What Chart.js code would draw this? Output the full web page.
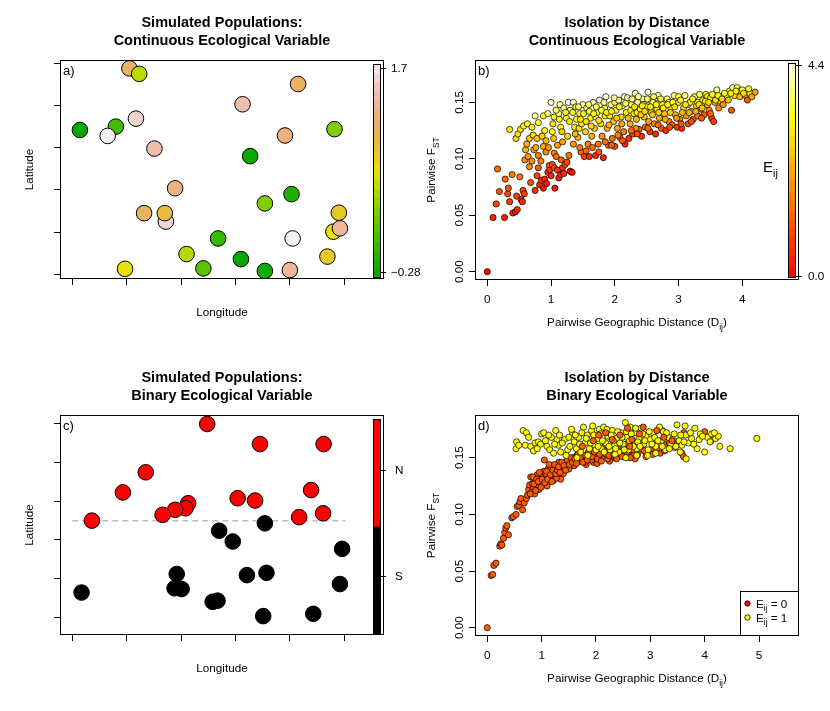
<!DOCTYPE html>
<html>
<head>
<meta charset="utf-8">
<script src="https://cdn.jsdelivr.net/npm/chart.js@4.4.1/dist/chart.umd.min.js"></script>
<style>
  html, body { margin: 0; padding: 0; background: #fff; }
  #wrap { position: relative; width: 830px; height: 711px; }
  canvas { position: absolute; left: 0; top: 0; }
</style>
</head>
<body>
<div id="wrap">
  <canvas id="pa" width="830" height="711"></canvas>
  <canvas id="pb" width="830" height="711"></canvas>
  <canvas id="pc" width="830" height="711"></canvas>
  <canvas id="pd" width="830" height="711"></canvas>
</div>
<script>
const W = 830, H = 711;
const FONT = '"Liberation Sans", Arial, Helvetica, sans-serif';
Chart.defaults.font.family = FONT;
Chart.defaults.color = '#000';

// ---- a) simulated populations, continuous variable ----
const lonA = [1.05, 1.23, 4.15, 3.13, 1.17, 0.14, 0.80, 0.65, 4.82, 3.91,
              1.51, 3.27, 1.89, 4.03, 3.54, 1.32, 1.72, 1.70, 4.90, 4.80,
              4.92, 2.68, 4.05, 2.10, 4.69, 2.41, 3.10, 3.54, 4.00, 0.97];
const latA = [4.88, 4.75, 4.51, 4.03, 3.69, 3.42, 3.50, 3.28, 3.44, 3.29,
              2.98, 2.80, 2.04, 1.90, 1.68, 1.45, 1.25, 1.45, 1.46, 1.01,
              1.09, 0.85, 0.85, 0.48, 0.42, 0.14, 0.36, 0.08, 0.10, 0.13];
const envA = [1.12, 0.55, 1.12, 1.42, 1.56, -0.26, 0.07, 1.70, 0.34, 1.22,
              1.42, -0.22, 1.24, -0.10, 0.34, 1.12, 1.58, 0.97, 0.88, 0.72,
              1.35, 0.00, 1.70, 0.52, 0.88, 0.17, -0.25, -0.20, 1.35, 0.72];
const envMinA = -0.28, envMaxA = 1.7;

// ---- c) simulated populations, binary variable ----
const lonC = [2.48, 3.45, 4.62, 1.35, 0.93, 4.39, 3.04, 3.36, 2.13, 2.08,
              1.89, 1.66, 0.36, 4.17, 4.61, 3.54, 2.70, 2.95, 4.96, 1.92,
              3.21, 3.57, 0.17, 1.88, 2.01, 4.92, 2.58, 2.67, 3.51, 4.43];
const latC = [5.00, 4.48, 4.48, 3.75, 3.23, 3.29, 3.08, 3.02, 2.95, 2.82,
              2.78, 2.65, 2.50, 2.59, 2.69, 2.43, 2.24, 1.96, 1.77, 1.12,
              1.09, 1.15, 0.64, 0.75, 0.73, 0.86, 0.40, 0.43, 0.03, 0.09];
const groupC = ['N','N','N','N','N','N','N','N','N','N','N','N','N','N','N',
                'S','S','S','S','S','S','S','S','S','S','S','S','S','S','S'];
const boundaryLon = [0, 5.02];
const boundaryLat = [2.5, 2.5];

// ---- b) isolation by distance, continuous ----
const distB = [0.00,0.09,0.14,0.16,0.19,0.27,0.28,0.32,0.33,0.35,
  0.35,0.39,0.40,0.44,0.45,0.46,0.47,0.48,0.51,0.52,
  0.53,0.55,0.56,0.57,0.58,0.59,0.60,0.62,0.63,0.64,
  0.66,0.66,0.68,0.70,0.70,0.72,0.73,0.75,0.75,0.76,
  0.78,0.78,0.80,0.80,0.80,0.82,0.84,0.85,0.86,0.88,
  0.88,0.88,0.90,0.90,0.92,0.92,0.93,0.95,0.95,0.96,
  0.97,0.98,1.00,1.00,1.02,1.02,1.04,1.05,1.05,1.05,
  1.06,1.08,1.10,1.10,1.12,1.12,1.14,1.15,1.15,1.16,
  1.18,1.18,1.20,1.20,1.22,1.24,1.25,1.26,1.27,1.28,
  1.30,1.30,1.33,1.35,1.35,1.37,1.39,1.40,1.42,1.44,
  1.45,1.47,1.48,1.50,1.52,1.54,1.56,1.58,1.60,1.60,
  1.62,1.64,1.66,1.68,1.70,1.70,1.72,1.74,1.76,1.78,
  1.80,1.82,1.84,1.85,1.86,1.88,1.90,1.92,1.94,1.96,
  1.98,2.00,2.00,2.02,2.04,2.06,2.08,2.10,2.12,2.14,
  2.15,2.16,2.18,2.20,2.22,2.24,2.25,2.26,2.28,2.30,
  2.32,2.34,2.35,2.36,2.38,2.40,2.42,2.44,2.45,2.46,
  2.48,2.50,2.52,2.55,2.55,2.57,2.60,2.62,2.64,2.66,
  2.68,2.70,2.70,2.73,2.75,2.78,2.80,2.82,2.85,2.85,
  2.88,2.90,2.93,2.95,2.98,3.00,3.00,3.02,3.05,3.08,
  3.10,3.12,3.15,3.15,3.18,3.20,3.23,3.25,3.28,3.30,
  3.30,3.33,3.35,3.38,3.40,3.43,3.45,3.45,3.48,3.50,
  3.52,3.55,3.57,3.60,3.63,3.65,3.66,3.70,3.75,3.80,
  3.83,3.85,3.88,3.92,3.95,3.96,4.00,4.05,4.08,4.12,
  4.15,4.20,
  1.03,1.08,1.13,1.17,1.23,1.29,1.34,1.38,1.43,1.46,
  1.51,1.55,1.59,1.63,1.67,1.71,1.75,1.79,1.83,1.87,
  1.91,1.95,1.99,2.03,2.07,2.11,2.17,2.21,2.27,2.31,
  2.33,2.37,2.41,2.43,2.47,2.51,2.53,2.56,2.59,2.61,
  2.65,2.69,2.72,2.76,2.79,2.83,2.87,2.91,2.94,2.97,
  3.03,3.06,3.11,3.17,3.22,3.27,3.32,3.37,3.42,3.47,
  3.53,3.58,3.62,3.68,3.72,3.78,3.82,3.90,4.02,4.10,
  1.45,1.55,1.65,1.75,1.85,1.95,2.05,2.12,2.26,2.35,
  2.52,2.68,2.86,3.04,3.20,3.36,3.50];
const fstB = [0.000,0.048,0.060,0.091,0.071,0.048,0.082,0.069,0.074,0.062,
  0.126,0.086,0.052,0.053,0.118,0.067,0.055,0.122,0.084,0.126,
  0.064,0.062,0.072,0.129,0.069,0.099,0.108,0.113,0.131,0.102,
  0.093,0.118,0.079,0.098,0.128,0.121,0.108,0.072,0.138,0.110,
  0.085,0.118,0.092,0.103,0.132,0.077,0.098,0.081,0.120,0.074,
  0.111,0.138,0.082,0.125,0.106,0.116,0.078,0.088,0.140,0.110,
  0.094,0.090,0.085,0.150,0.095,0.124,0.118,0.092,0.105,0.137,
  0.074,0.102,0.090,0.112,0.083,0.140,0.148,0.086,0.128,0.099,
  0.092,0.115,0.087,0.145,0.095,0.136,0.097,0.120,0.150,0.103,
  0.143,0.089,0.088,0.113,0.150,0.128,0.146,0.135,0.119,0.127,
  0.140,0.106,0.131,0.148,0.102,0.124,0.145,0.113,0.102,0.142,
  0.136,0.120,0.150,0.127,0.103,0.137,0.141,0.113,0.152,0.131,
  0.120,0.101,0.145,0.138,0.155,0.127,0.112,0.138,0.148,0.118,
  0.133,0.111,0.150,0.143,0.127,0.152,0.119,0.137,0.147,0.124,
  0.155,0.113,0.141,0.154,0.118,0.131,0.143,0.148,0.122,0.140,
  0.158,0.135,0.141,0.150,0.126,0.144,0.120,0.153,0.148,0.137,
  0.128,0.146,0.159,0.124,0.152,0.141,0.150,0.131,0.122,0.144,
  0.156,0.136,0.150,0.127,0.148,0.140,0.125,0.153,0.133,0.150,
  0.145,0.130,0.156,0.139,0.128,0.150,0.155,0.135,0.127,0.145,
  0.156,0.138,0.131,0.148,0.150,0.142,0.135,0.155,0.147,0.138,
  0.150,0.157,0.144,0.152,0.139,0.157,0.148,0.155,0.143,0.154,
  0.136,0.133,0.150,0.161,0.145,0.151,0.155,0.148,0.156,0.160,
  0.143,0.163,0.156,0.163,0.160,0.155,0.161,0.156,0.152,0.158,
  0.155,0.159,
  0.131,0.143,0.135,0.124,0.141,0.133,0.141,0.122,0.146,0.135,
  0.140,0.133,0.148,0.129,0.140,0.146,0.134,0.143,0.150,0.141,
  0.130,0.142,0.154,0.136,0.146,0.131,0.149,0.136,0.153,0.146,
  0.127,0.155,0.139,0.147,0.142,0.153,0.133,0.146,0.139,0.155,
  0.148,0.141,0.153,0.145,0.135,0.148,0.141,0.150,0.146,0.136,
  0.152,0.141,0.148,0.141,0.153,0.142,0.148,0.145,0.151,0.150,
  0.157,0.152,0.156,0.153,0.158,0.152,0.158,0.160,0.158,0.162,
  0.110,0.107,0.110,0.106,0.115,0.112,0.121,0.116,0.125,0.122,
  0.127,0.130,0.128,0.131,0.133,0.136,0.140];
const envB = [0.1,0.4,0.9,1.4,1.0,0.3,1.3,0.9,1.1,0.7,
  3.0,1.6,0.5,0.4,2.8,0.8,0.5,3.0,1.5,3.0,
  0.6,0.5,0.9,3.1,0.8,1.8,2.3,2.3,3.2,2.0,
  1.8,2.6,1.0,1.9,3.1,2.9,2.1,0.6,4.0,2.2,
  0.9,2.6,1.2,1.7,3.4,0.4,1.6,0.6,2.7,0.3,
  2.2,3.5,0.4,3.1,1.8,2.4,0.3,0.8,3.8,2.0,
  1.1,0.6,0.5,4.2,1.0,3.2,2.5,0.8,1.6,3.6,
  0.2,1.4,0.7,2.0,0.4,3.8,4.0,0.3,3.3,1.2,
  0.6,2.1,0.5,3.9,1.0,3.4,0.9,2.9,4.3,1.5,
  3.9,0.3,0.2,1.9,4.2,3.1,3.6,3.3,2.4,2.9,
  3.7,1.4,3.0,4.1,0.9,2.7,3.9,1.6,0.5,3.6,
  3.2,2.3,4.2,2.6,0.6,3.3,3.5,1.5,4.3,2.8,
  2.0,0.4,3.6,3.2,4.4,2.3,1.2,3.0,3.9,1.4,
  2.6,0.9,3.7,3.3,2.1,4.1,1.3,2.8,3.7,1.6,
  4.1,0.5,3.1,4.2,0.6,2.2,3.3,3.6,1.0,2.9,
  4.3,2.4,3.1,4.0,1.3,3.2,0.6,4.1,3.7,2.5,
  1.5,3.4,4.4,0.7,3.9,2.8,3.7,1.6,0.5,3.0,
  4.0,2.2,3.6,1.1,3.4,2.6,0.6,3.8,1.7,3.5,
  3.0,1.2,3.9,2.3,0.8,3.4,3.7,1.6,0.5,2.9,
  3.8,2.0,1.0,3.0,3.2,2.4,1.2,3.6,2.8,1.5,
  3.1,3.7,2.1,3.1,1.2,3.5,2.5,3.3,1.7,3.0,
  0.9,0.7,2.4,3.9,1.8,2.6,3.0,2.0,3.3,3.6,
  1.1,4.0,2.9,3.8,3.4,2.4,3.5,1.9,1.2,3.2,
  2.2,2.0,
  3.0,3.7,3.2,2.6,3.5,3.0,3.4,2.4,3.8,3.1,
  3.3,2.9,3.8,2.7,3.2,3.7,2.9,3.4,3.9,3.1,
  2.4,3.2,4.1,2.6,3.4,2.2,3.6,2.5,3.9,3.2,
  1.8,4.0,2.6,3.3,2.9,3.8,2.1,3.2,2.5,3.8,
  3.3,2.7,3.6,3.0,2.2,3.2,2.6,3.3,2.9,1.9,
  3.4,2.4,3.0,2.3,3.4,2.2,2.9,2.5,3.0,2.8,
  3.5,2.9,3.2,2.8,3.4,2.6,3.2,3.3,2.9,3.6,
  1.6,1.3,1.4,1.1,1.5,1.2,1.6,1.1,1.4,1.0,
  1.2,1.3,1.0,1.1,1.0,1.1,1.3];
const envMaxB = 4.4;

// ---- d) isolation by distance, binary ----
// pairs with E_ij = 0 (the lower curve)
const distE0 = [0.00,0.07,0.10,0.12,0.16,0.23,0.25,0.27,0.30,0.32,
  0.34,0.36,0.39,0.45,0.48,0.53,0.55,0.58,0.60,0.62,
  0.65,0.68,0.72,0.74,0.76,0.78,0.80,0.82,0.85,0.88,
  0.90,0.92,0.95,0.97,1.00,1.02,1.04,1.05,1.07,1.10,
  1.12,1.15,1.18,1.20,1.22,1.25,1.28,1.30,1.33,1.35,
  1.38,1.42,1.45,1.48,1.52,1.55,1.58,1.62,1.65,1.70,
  1.74,1.78,1.82,1.86,1.90,1.95,2.00,2.05,2.08,2.12,
  2.16,2.20,2.25,2.30,2.35,2.40,2.45,2.50,2.55,2.60,
  2.65,2.72,2.78,2.85,2.92,3.00,3.08,3.18,3.22,3.30,
  3.45,3.58,3.61,3.62,4.00,4.12,0.83,0.87,0.93,0.98,
  1.03,1.08,1.13,1.17,1.23,1.27,1.32,1.40,1.50,1.60,
  1.68,1.80,1.92,2.02,2.22,2.38,2.70,2.95,
  0.79,0.84,0.86,0.89,0.91,0.94,0.96,0.99,1.01,1.06,
  1.09,1.11,1.14,1.16,1.19,1.21,1.24,1.26,1.29,1.31,
  1.34,1.37,1.41,1.44,1.47,1.51,1.54,1.57,1.61,1.64,
  1.67,1.72,1.76,1.81,1.84,1.88,1.93,1.97,2.03,2.07,
  2.10,2.14,2.19,2.24,2.28,2.33,2.42,2.48,2.53,2.58,
  2.63,2.68,2.76,2.82,2.89,3.05,3.12,3.26,3.35,3.48];
const fstE0 = [0.000,0.046,0.047,0.055,0.057,0.072,0.074,0.073,0.079,0.084,
  0.088,0.090,0.082,0.097,0.098,0.100,0.107,0.108,0.111,0.114,
  0.104,0.110,0.114,0.117,0.122,0.126,0.133,0.120,0.124,0.130,
  0.128,0.135,0.122,0.131,0.136,0.127,0.138,0.148,0.132,0.125,
  0.140,0.133,0.137,0.142,0.130,0.138,0.144,0.135,0.140,0.131,
  0.143,0.139,0.146,0.141,0.148,0.143,0.150,0.146,0.152,0.147,
  0.153,0.149,0.144,0.155,0.150,0.146,0.152,0.157,0.148,0.154,
  0.160,0.151,0.147,0.155,0.150,0.158,0.152,0.156,0.162,0.153,
  0.158,0.149,0.155,0.160,0.151,0.157,0.162,0.154,0.174,0.162,
  0.159,0.154,0.151,0.172,0.173,0.165,0.127,0.118,0.126,0.128,
  0.133,0.136,0.129,0.141,0.136,0.132,0.146,0.136,0.140,0.143,
  0.150,0.146,0.148,0.145,0.149,0.149,0.153,0.155,
  0.118,0.133,0.127,0.121,0.131,0.129,0.137,0.124,0.131,0.128,
  0.138,0.131,0.144,0.135,0.129,0.139,0.144,0.136,0.139,0.142,
  0.137,0.146,0.143,0.139,0.148,0.144,0.150,0.146,0.149,0.145,
  0.153,0.150,0.146,0.152,0.148,0.153,0.151,0.155,0.149,0.153,
  0.147,0.157,0.153,0.152,0.158,0.153,0.155,0.151,0.158,0.155,
  0.150,0.157,0.152,0.158,0.156,0.153,0.158,0.156,0.163,0.162];
// pairs with E_ij = 1
const distE1 = [0.54,0.53,0.66,0.72,0.70,0.80,0.85,0.88,0.94,1.00,
  1.04,1.10,1.15,1.22,1.26,1.28,1.31,1.35,1.42,1.48,
  1.52,1.57,1.60,1.64,1.68,1.72,1.77,1.80,1.84,1.88,
  1.92,1.94,1.98,2.02,2.06,2.10,2.14,2.18,2.22,2.26,
  2.30,2.34,2.38,2.42,2.46,2.50,2.54,2.57,2.60,2.63,
  2.67,2.71,2.75,2.79,2.83,2.88,2.92,2.96,3.00,3.05,
  3.10,3.17,3.20,3.24,3.28,3.33,3.38,3.44,3.49,3.53,
  3.58,3.64,3.65,3.66,3.70,3.76,3.82,3.86,3.90,3.92,
  4.00,4.05,4.13,4.20,4.25,4.28,4.47,4.96,1.45,1.65,
  1.85,2.00,2.15,2.35,2.55,2.75,2.95,3.10,3.35,3.55,
  0.98,1.18,
  0.58,0.76,0.92,1.07,1.13,1.24,1.33,1.38,1.50,1.55,
  1.62,1.70,1.74,1.82,1.90,1.96,2.04,2.08,2.12,2.20,
  2.24,2.28,2.32,2.36,2.40,2.44,2.48,2.52,2.56,2.62,
  2.65,2.69,2.73,2.77,2.81,2.86,2.90,2.98,3.03,3.08,
  3.14,3.22,3.30,3.41,3.47,3.56,3.62,3.74,3.80,3.96,
  4.10,4.18];
const fstE1 = [0.164,0.158,0.174,0.172,0.161,0.160,0.156,0.163,0.164,0.171,
  0.172,0.160,0.157,0.154,0.174,0.166,0.161,0.155,0.166,0.157,
  0.160,0.171,0.164,0.158,0.168,0.155,0.177,0.163,0.170,0.158,
  0.174,0.178,0.161,0.167,0.175,0.158,0.177,0.163,0.169,0.157,
  0.174,0.161,0.167,0.155,0.172,0.162,0.181,0.168,0.157,0.177,
  0.163,0.172,0.158,0.167,0.176,0.162,0.169,0.157,0.166,0.172,
  0.160,0.177,0.165,0.173,0.157,0.168,0.162,0.171,0.179,0.165,
  0.161,0.178,0.170,0.149,0.163,0.167,0.176,0.158,0.166,0.171,
  0.155,0.168,0.171,0.167,0.169,0.160,0.158,0.167,0.152,0.150,
  0.152,0.157,0.155,0.153,0.150,0.152,0.152,0.154,0.158,0.155,
  0.162,0.168,
  0.161,0.168,0.158,0.165,0.170,0.162,0.170,0.163,0.168,0.175,
  0.170,0.162,0.172,0.167,0.163,0.170,0.160,0.171,0.165,0.175,
  0.160,0.170,0.165,0.158,0.173,0.163,0.168,0.157,0.173,0.165,
  0.171,0.160,0.176,0.164,0.160,0.171,0.165,0.173,0.162,0.168,
  0.165,0.160,0.172,0.166,0.160,0.170,0.164,0.172,0.162,0.169,
  0.164,0.172];
// E_ij = 0 pairs that sit inside the upper cloud (drawn last)
const distE0top = [1.75,1.95,2.05,2.18,2.30,2.44,2.58,2.62,2.66,2.80,2.87,3.12,3.25,3.40];
const fstE0top = [0.160,0.165,0.170,0.172,0.166,0.170,0.176,0.160,0.166,0.171,0.177,0.174,0.168,0.165];

// ---- ticks ----
const mapTicks = [0, 1, 2, 3, 4, 5];
const distTicksB = [0, 1, 2, 3, 4];
const distTicksD = [0, 1, 2, 3, 4, 5];
const fstTicks = [0, 0.05, 0.10, 0.15];
const fstTickLabels = ['0.00', '0.05', '0.10', '0.15'];

// colour ramps (R terrain.colors / heat.colors)
function hsv(h, s, v) {
  const f = n => { const k = (n + h / 60) % 6; return v - v * s * Math.max(0, Math.min(k, 4 - k, 1)); };
  return 'rgb(' + [f(5), f(3), f(1)].map(c => Math.round(c * 255)).join(',') + ')';
}
function terrain(t) {
  t = Math.max(0, Math.min(1, t));
  if (t <= 0.5) { const u = t / 0.5; return hsv(120 - 60 * u, 1, 0.65 + 0.25 * u); }
  const u = (t - 0.5) / 0.5;
  return hsv(60 - 60 * u, 1 - u, 0.9 + 0.05 * u);
}
function heat(t) {
  t = Math.max(0, Math.min(1, t));
  if (t <= 0.75) return hsv(60 * t / 0.75, 1, 1);
  return hsv(60, 1 - 0.9 * (t - 0.75) / 0.25, 1);
}

// text with subscripts: parts = [[text, isSub], ...]
function rich(ctx, parts, x, y, size, align) {
  const fonts = parts.map(p => (p[1] ? size * 0.72 : size) + 'px ' + FONT);
  let total = 0;
  const widths = parts.map((p, i) => { ctx.font = fonts[i]; const w = ctx.measureText(p[0]).width; total += w; return w; });
  let cx = align === 'center' ? x - total / 2 : x;
  ctx.textAlign = 'left';
  ctx.textBaseline = 'alphabetic';
  parts.forEach((p, i) => {
    ctx.font = fonts[i];
    ctx.fillText(p[0], cx, y + (p[1] ? size * 0.3 : 0));
    cx += widths[i];
  });
}

function decoPlugin(d) {
  return {
    id: 'deco',
    afterDraw(chart) {
      const ctx = chart.ctx, ca = chart.chartArea;
      const L = ca.left, T = ca.top, R = ca.right, B = ca.bottom;
      ctx.save();
      ctx.fillStyle = '#000';
      ctx.strokeStyle = '#000';
      ctx.lineWidth = 1;

      ctx.font = 'bold 14.5px ' + FONT;
      ctx.textAlign = 'center';
      ctx.textBaseline = 'alphabetic';
      ctx.fillText(d.title[0], (L + R) / 2, T - 33);
      ctx.fillText(d.title[1], (L + R) / 2, T - 15);

      ctx.font = '13px ' + FONT;
      ctx.textAlign = 'left';
      ctx.fillText(d.tag, L + 3, T + 15);

      rich(ctx, d.xTitle, (L + R) / 2, B + d.xTitleDy, 11.7, 'center');

      ctx.save();
      ctx.translate(L - d.yTitleDx, (T + B) / 2);
      ctx.rotate(-Math.PI / 2);
      rich(ctx, d.yTitle, 0, 0, 11.7, 'center');
      ctx.restore();

      if (d.yLabels) {
        const ys = chart.scales.y;
        ctx.font = '11.7px ' + FONT;
        ys.ticks.forEach((tk, i) => {
          ctx.save();
          ctx.translate(L - 12, ys.getPixelForValue(tk.value));
          ctx.rotate(-Math.PI / 2);
          ctx.textAlign = 'center';
          ctx.textBaseline = 'alphabetic';
          ctx.fillText(d.yLabels[i], 0, 0);
          ctx.restore();
        });
      }

      if (d.bar) {
        const b = d.bar;
        const x0 = R - 11, x1 = R - 4, y0 = T + b.top, y1 = B - b.bottom;
        const n = b.colors.length, h = (y1 - y0) / n;
        b.colors.forEach((c, i) => {
          ctx.fillStyle = c;
          ctx.fillRect(x0, y1 - (i + 1) * h, x1 - x0, h + 0.6);
        });
        ctx.strokeRect(x0 + 0.5, y0 + 0.5, x1 - x0, y1 - y0);
        ctx.fillStyle = '#000';
        ctx.font = '11.7px ' + FONT;
        ctx.textAlign = 'left';
        ctx.textBaseline = 'middle';
        b.ticks.forEach(t => {
          const y = Math.round(y0 + t[1]) + 0.5;
          ctx.beginPath(); ctx.moveTo(x1, y); ctx.lineTo(R + b.tickEnd, y); ctx.stroke();
          ctx.fillText(t[0], R + b.labelDx, y);
        });
        if (b.title) {
          ctx.fillStyle = '#000';
          rich(ctx, b.title, R + b.titleDx, T + b.titleDy, 15, 'left');
        }
      }

      if (d.legend) {
        const lx = R - 59, ly = B - 45;
        ctx.fillStyle = '#fff';
        ctx.fillRect(lx, ly, 59, 45);
        ctx.strokeRect(lx + 0.5, ly + 0.5, 58, 44);
        d.legend.forEach((it, i) => {
          const cy = ly + 12.5 + i * 14;
          ctx.beginPath();
          ctx.arc(lx + 7.5, cy, 2.7, 0, Math.PI * 2);
          ctx.fillStyle = it[1];
          ctx.fill();
          ctx.lineWidth = 0.8;
          ctx.stroke();
          ctx.fillStyle = '#000';
          rich(ctx, [['E'], ['ij', 1], [' = ' + it[0]]], lx + 16, cy + 4.4, 11.7, 'left');
        });
        ctx.lineWidth = 1;
      }

      ctx.strokeRect(Math.round(L) + 0.5, Math.round(T) + 0.5, Math.round(R - L) - 1, Math.round(B - T) - 1);
      ctx.restore();
    }
  };
}

const Y_W = 50, X_H = 50;
function makeChart(id, area, xr, yr, datasets, deco) {
  const grid = { drawOnChartArea: false, drawTicks: true, tickLength: 6, color: '#000', lineWidth: 1 };
  return new Chart(document.getElementById(id), {
    type: 'scatter',
    data: { datasets },
    options: {
      responsive: false,
      animation: false,
      devicePixelRatio: 1,
      events: [],
      layout: { padding: { left: area.l - Y_W, top: area.t, right: W - area.r, bottom: H - area.b - X_H } },
      plugins: { legend: { display: false }, tooltip: { enabled: false }, title: { display: false } },
      scales: {
        x: {
          type: 'linear', position: 'bottom', bounds: 'data',
          min: xr.range[0], max: xr.range[1],
          afterBuildTicks: s => { s.ticks = xr.ticks.map(v => ({ value: v })); },
          afterFit: s => { s.height = X_H; },
          grid, border: { display: false },
          ticks: {
            display: !!xr.labels, autoSkip: false, maxRotation: 0, padding: 7,
            font: { size: 11.7 }, color: '#000',
            callback: (v, i) => xr.labels ? xr.labels[i] : ''
          }
        },
        y: {
          type: 'linear', position: 'left', bounds: 'data',
          min: yr.range[0], max: yr.range[1],
          afterBuildTicks: s => { s.ticks = yr.ticks.map(v => ({ value: v })); },
          afterFit: s => { s.width = Y_W; },
          grid, border: { display: false },
          ticks: { display: false }
        }
      }
    },
    plugins: [decoPlugin(deco)]
  });
}

const barA = Array.from({ length: 24 }, (_, i) => terrain((i + 0.5) / 24));
const barB = Array.from({ length: 50 }, (_, i) => heat((i + 0.5) / 50));
const barC = groupC.slice().reverse().map(g => g === 'N' ? '#FF0000' : '#000000');

// a)
makeChart('pa', { l: 60, t: 60, r: 384, b: 279 },
  { range: [-0.226, 5.73], ticks: mapTicks },
  { range: [-0.111, 5.079], ticks: mapTicks },
  [{
    data: lonA.map((x, i) => ({ x, y: latA[i] })),
    pointRadius: 7.8, pointBorderWidth: 1, pointBorderColor: '#000',
    pointBackgroundColor: envA.map(v => terrain((v - envMinA) / (envMaxA - envMinA)))
  }],
  {
    title: ['Simulated Populations:', 'Continuous Ecological Variable'], tag: 'a)',
    xTitle: [['Longitude']], xTitleDy: 37, yTitle: [['Latitude']], yTitleDx: 27,
    bar: { colors: barA, top: 4, bottom: 2, ticks: [['1.7', 4], ['\u22120.28', 208]], tickEnd: 2, labelDx: 7 }
  });

// b)
makeChart('pb', { l: 475, t: 60, r: 799, b: 280 },
  { range: [-0.193, 4.889], ticks: distTicksB, labels: distTicksB.map(String) },
  { range: [-0.00735, 0.1875], ticks: fstTicks },
  [{
    data: distB.map((x, i) => ({ x, y: fstB[i] })),
    pointRadius: 3.1, pointBorderWidth: 0.7, pointBorderColor: '#000',
    pointBackgroundColor: envB.map(v => heat(v / envMaxB))
  }],
  {
    title: ['Isolation by Distance', 'Continuous Ecological Variable'], tag: 'b)',
    xTitle: [['Pairwise Geographic Distance (D'], ['ij', 1], [')']], xTitleDy: 46,
    yTitle: [['Pairwise F'], ['ST', 1]], yTitleDx: 40, yLabels: fstTickLabels,
    bar: { colors: barB, top: 3, bottom: 3, ticks: [['4.4', 2], ['0.0', 213]], tickEnd: 3, labelDx: 9,
           title: [['E'], ['ij', 1]], titleDx: -36, titleDy: 112 }
  });

// c)
makeChart('pc', { l: 60, t: 415, r: 384, b: 635 },
  { range: [-0.226, 5.73], ticks: mapTicks },
  { range: [-0.458, 5.232], ticks: mapTicks },
  [{
    data: lonC.map((x, i) => ({ x, y: latC[i] })),
    pointRadius: 7.8, pointBorderWidth: 1, pointBorderColor: '#000',
    pointBackgroundColor: groupC.map(g => g === 'N' ? '#FF0000' : '#000000'),
    order: 0
  }, {
    type: 'line',
    data: boundaryLon.map((x, i) => ({ x, y: boundaryLat[i] })),
    showLine: true, borderColor: '#BEBEBE', borderWidth: 1.5, borderDash: [6, 4],
    pointRadius: 0, order: 1
  }],
  {
    title: ['Simulated Populations:', 'Binary Ecological Variable'], tag: 'c)',
    xTitle: [['Longitude']], xTitleDy: 37, yTitle: [['Latitude']], yTitleDx: 27,
    bar: { colors: barC, top: 4, bottom: 2, ticks: [['N', 51], ['S', 157]], tickEnd: 2, labelDx: 11 }
  });

// d)
const pt = { pointRadius: 3.1, pointBorderWidth: 0.7, pointBorderColor: '#000' };
makeChart('pd', { l: 475, t: 415, r: 799, b: 636 },
  { range: [-0.226, 5.736], ticks: distTicksD, labels: distTicksD.map(String) },
  { range: [-0.00732, 0.1877], ticks: fstTicks },
  [
    Object.assign({ data: distE0top.map((x, i) => ({ x, y: fstE0top[i] })), pointBackgroundColor: '#FF5A00', order: 0 }, pt),
    Object.assign({ data: distE1.map((x, i) => ({ x, y: fstE1[i] })), pointBackgroundColor: '#FFFF00', order: 1 }, pt),
    Object.assign({ data: distE0.map((x, i) => ({ x, y: fstE0[i] })), pointBackgroundColor: '#FF5A00', order: 2 }, pt)
  ],
  {
    title: ['Isolation by Distance', 'Binary Ecological Variable'], tag: 'd)',
    xTitle: [['Pairwise Geographic Distance (D'], ['ij', 1], [')']], xTitleDy: 46,
    yTitle: [['Pairwise F'], ['ST', 1]], yTitleDx: 40, yLabels: fstTickLabels,
    legend: [['0', '#FF0000'], ['1', '#FFFF00']]
  });
</script>
</body>
</html>
